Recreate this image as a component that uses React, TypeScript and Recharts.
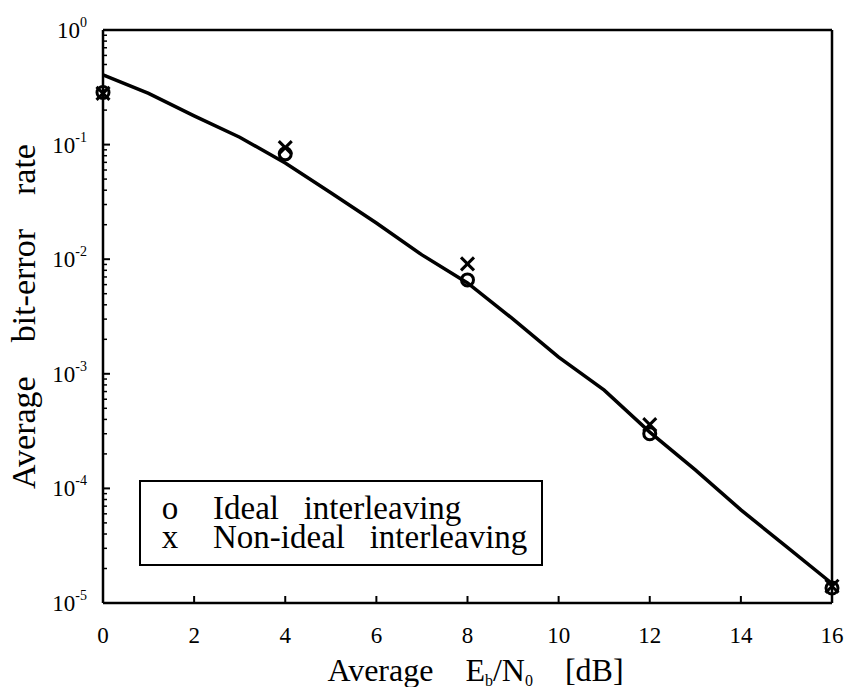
import React from 'react';
import { LineChart, Line, XAxis, YAxis, Legend } from 'recharts';

// ---------- data ----------
const snrDb = [0, 1, 2, 3, 4, 5, 6, 7, 8, 9, 10, 11, 12, 13, 14, 15, 16];
const berTheory = [
  0.405, 0.28, 0.178, 0.116, 0.069, 0.038, 0.0207, 0.0109, 0.0062, 0.003,
  0.0014, 0.00072, 0.00031, 0.000145, 0.000065, 0.000031, 0.0000148,
];
const markerSnr = [0, 4, 8, 12, 16];
const berIdeal = [0.285, 0.083, 0.0066, 0.0003, 0.0000135];
const berNonIdeal = [0.28, 0.094, 0.0091, 0.00036, 0.000014];

const seriesNames = ['Ideal   interleaving', 'Non-ideal   interleaving'];
const seriesSymbols = ['o', 'x'];

const xTicks = [0, 2, 4, 6, 8, 10, 12, 14, 16];
const yMajorTicks = [1e-5, 1e-4, 1e-3, 1e-2, 1e-1, 1];
const minorMultipliers = [2, 3, 4, 5, 6, 7, 8, 9];

const xLabelParts = ['Average', 'E', 'b', '/N', '0', '[dB]'];
const yLabelWords = ['Average', 'bit-error', 'rate'];

// ---------- derived tables ----------
const curveData = snrDb.map((s, i) => ({ snr: s, ber: berTheory[i] }));
const idealData = markerSnr.map((s, i) => ({ snr: s, ber: berIdeal[i] }));
const nonIdealData = markerSnr.map((s, i) => ({ snr: s, ber: berNonIdeal[i] }));

const yAllTicks: number[] = [];
yMajorTicks.forEach((d, i) => {
  yAllTicks.push(d);
  if (i < yMajorTicks.length - 1) minorMultipliers.forEach((k) => yAllTicks.push(k * d));
});

const FONT = '"Liberation Serif", "Times New Roman", serif';
const NB = '\u00A0';
const GAP4 = NB + NB + NB + NB;

const isMajor = (v: number) => {
  const l = Math.log10(v);
  return Math.abs(l - Math.round(l)) < 1e-6;
};

// ---------- tick renderers (inward ticks) ----------
const LeftTick = (props: any) => {
  const { x, y, payload } = props;
  const v = payload.value;
  const major = isMajor(v);
  const e = Math.round(Math.log10(v));
  return (
    <g>
      <line x1={x} x2={x + (major ? 7 : 4)} y1={y} y2={y} stroke="#000" strokeWidth={major ? 2 : 1.5} />
      {major && (
        <text x={x - 16} y={y + 8} textAnchor="end" fontFamily={FONT} fontSize={23} fill="#000">
          <tspan>10</tspan>
          <tspan dy={-11} fontSize={14}>{String(e)}</tspan>
        </text>
      )}
    </g>
  );
};

const RightTick = (props: any) => {
  const { x, y, payload } = props;
  const major = isMajor(payload.value);
  return <line x1={x} x2={x - (major ? 7 : 4)} y1={y} y2={y} stroke="#000" strokeWidth={major ? 2 : 1.5} />;
};

const BottomTick = (props: any) => {
  const { x, y, payload } = props;
  return (
    <g>
      <line x1={x} x2={x} y1={y} y2={y - 7} stroke="#000" strokeWidth={2} />
      <text x={x} y={y + 40} textAnchor="middle" fontFamily={FONT} fontSize={23} fill="#000">
        {String(payload.value)}
      </text>
    </g>
  );
};

const TopTick = (props: any) => {
  const { x, y } = props;
  return <line x1={x} x2={x} y1={y} y2={y + 7} stroke="#000" strokeWidth={2} />;
};

// ---------- markers ----------
const CircleDot = (props: any) => {
  const { cx, cy, index } = props;
  if (cx == null || cy == null) return <g key={`c${index}`} />;
  return <circle key={`c${index}`} cx={cx} cy={cy} r={6} fill="none" stroke="#000" strokeWidth={3} />;
};

const CrossDot = (props: any) => {
  const { cx, cy, index } = props;
  if (cx == null || cy == null) return <g key={`x${index}`} />;
  const s = 6.5;
  return (
    <g key={`x${index}`}>
      <line x1={cx - s} y1={cy - s} x2={cx + s} y2={cy + s} stroke="#000" strokeWidth={3} />
      <line x1={cx - s} y1={cy + s} x2={cx + s} y2={cy - s} stroke="#000" strokeWidth={3} />
    </g>
  );
};

// ---------- labels ----------
const XLabel = (props: any) => {
  const vb = props.viewBox || {};
  const cx = vb.x + vb.width / 2 + 8;
  const y = vb.y + 78;
  return (
    <text x={cx} y={y} textAnchor="middle" fontFamily={FONT} fontSize={32} fill="#000">
      <tspan>{xLabelParts[0] + GAP4 + xLabelParts[1]}</tspan>
      <tspan fontSize={16} dy={5}>{xLabelParts[2]}</tspan>
      <tspan dy={-5}>{xLabelParts[3]}</tspan>
      <tspan fontSize={16} dy={5}>{xLabelParts[4]}</tspan>
      <tspan dy={-5}>{GAP4 + xLabelParts[5]}</tspan>
    </text>
  );
};

const YLabel = (props: any) => {
  const vb = props.viewBox || {};
  const cx = vb.x - 67;
  const cy = vb.y + vb.height / 2;
  return (
    <text
      x={cx}
      y={cy}
      transform={`rotate(-90 ${cx} ${cy})`}
      textAnchor="middle"
      fontFamily={FONT}
      fontSize={34}
      fill="#000"
    >
      {yLabelWords.join(GAP4)}
    </text>
  );
};

// ---------- legend ----------
const LegendBox = () => (
  <div
    style={{
      boxSizing: 'border-box',
      width: '100%',
      height: '100%',
      border: '2px solid #000',
      background: '#fff',
      paddingTop: 12,
      paddingLeft: 7,
      fontFamily: FONT,
      fontSize: 33,
      color: '#000',
    }}
  >
    {seriesNames.map((n, i) => (
      <div key={n} style={{ display: 'flex', lineHeight: '29px', height: 29, whiteSpace: 'pre' }}>
        <span style={{ width: 44, textAlign: 'center', display: 'inline-block' }}>{seriesSymbols[i]}</span>
        <span style={{ marginLeft: 21 }}>{n}</span>
      </div>
    ))}
  </div>
);

const axisLineStyle = { stroke: '#000', strokeWidth: 2.5 };

export default function App() {
  return (
    <div style={{ margin: -8, width: 852, height: 695 }}>
      <LineChart width={852} height={695} margin={{ top: 29, right: 19, bottom: 91, left: 102 }}>
        <XAxis
          dataKey="snr"
          type="number"
          domain={[0, 16]}
          ticks={xTicks}
          interval={0}
          height={1}
          tickSize={0}
          tickMargin={0}
          tickLine={false}
          tick={BottomTick}
          axisLine={axisLineStyle}
          label={XLabel}
        />
        <XAxis
          xAxisId="top"
          orientation="top"
          dataKey="snr"
          type="number"
          domain={[0, 16]}
          ticks={xTicks}
          interval={0}
          height={1}
          tickSize={0}
          tickMargin={0}
          tickLine={false}
          tick={TopTick}
          axisLine={axisLineStyle}
        />
        <YAxis
          type="number"
          scale="log"
          domain={[1e-5, 1]}
          ticks={yAllTicks}
          interval={0}
          width={1}
          tickSize={0}
          tickMargin={0}
          tickLine={false}
          tick={LeftTick}
          axisLine={axisLineStyle}
          label={YLabel}
        />
        <YAxis
          yAxisId="right"
          orientation="right"
          type="number"
          scale="log"
          domain={[1e-5, 1]}
          ticks={yAllTicks}
          interval={0}
          width={1}
          tickSize={0}
          tickMargin={0}
          tickLine={false}
          tick={RightTick}
          axisLine={axisLineStyle}
        />
        <Legend
          layout="vertical"
          align="center"
          verticalAlign="middle"
          content={LegendBox}
          wrapperStyle={{ left: 139, top: 480, width: 404, height: 86 }}
        />
        <Line
          data={curveData}
          dataKey="ber"
          type="linear"
          stroke="#000"
          strokeWidth={3.5}
          dot={false}
          legendType="none"
          isAnimationActive={false}
        />
        <Line
          data={idealData}
          dataKey="ber"
          name={seriesNames[0]}
          stroke="none"
          dot={CircleDot}
          activeDot={false}
          isAnimationActive={false}
        />
        <Line
          data={nonIdealData}
          dataKey="ber"
          name={seriesNames[1]}
          stroke="none"
          dot={CrossDot}
          activeDot={false}
          isAnimationActive={false}
        />
      </LineChart>
    </div>
  );
}
